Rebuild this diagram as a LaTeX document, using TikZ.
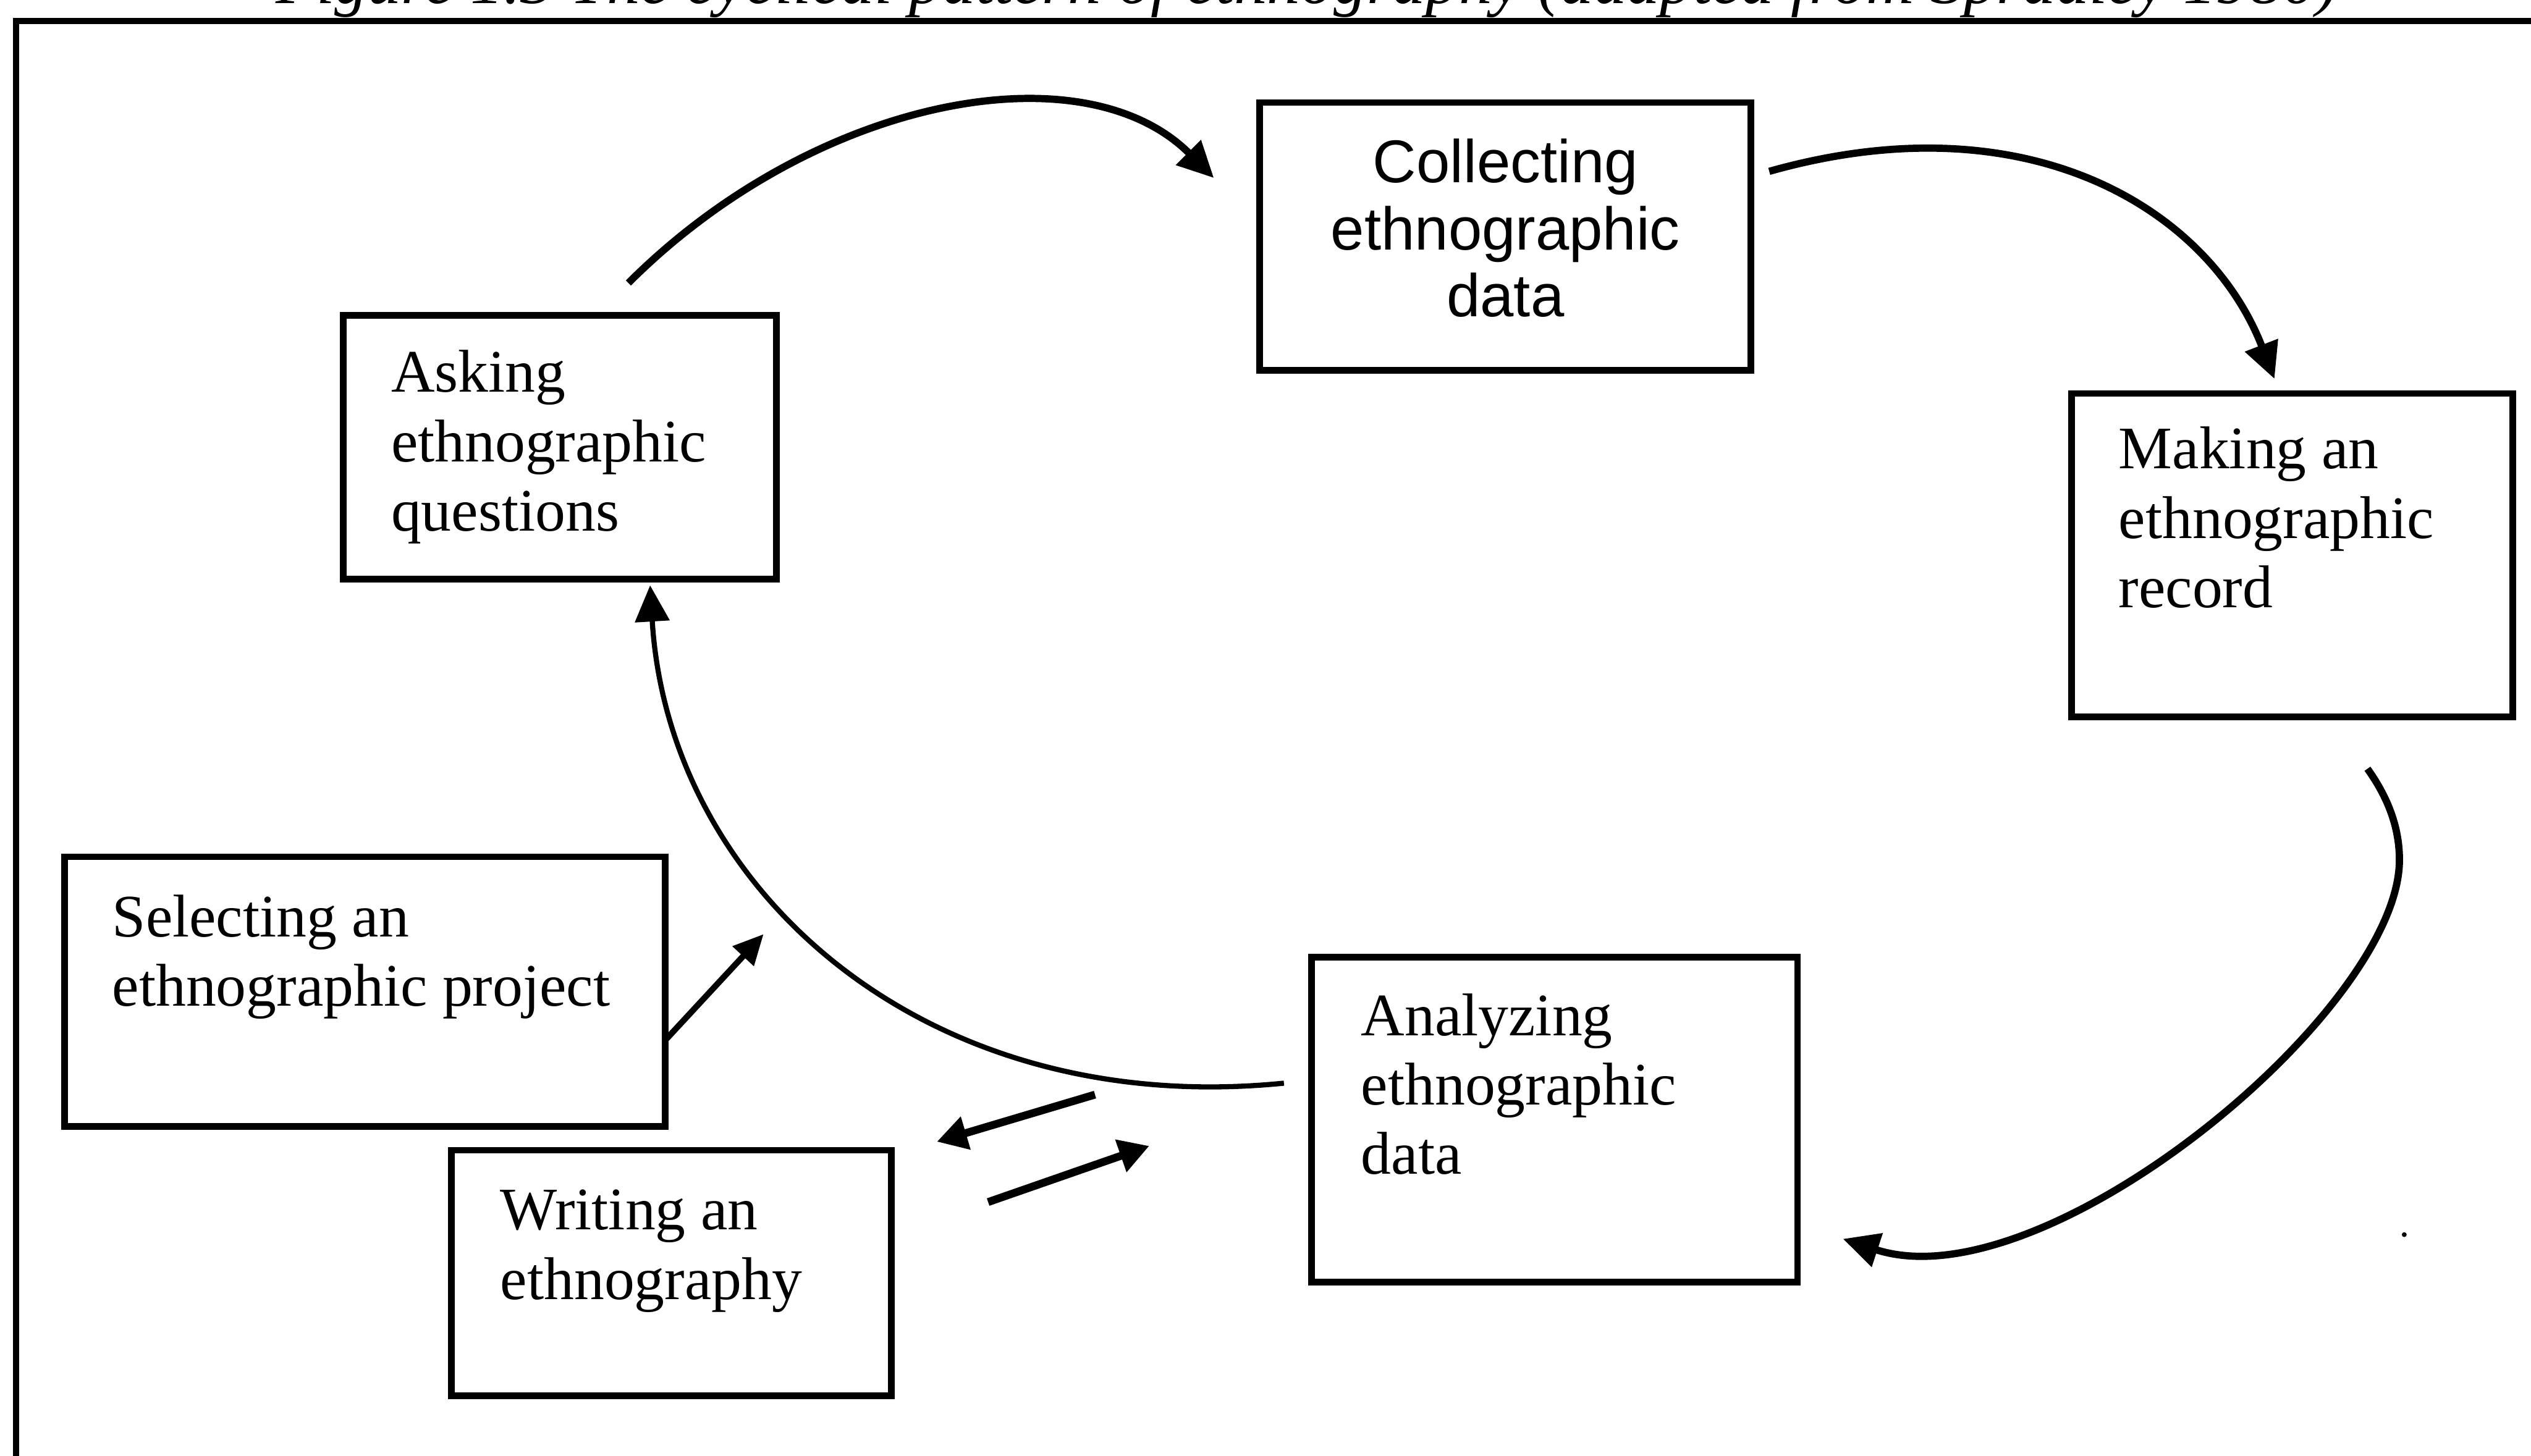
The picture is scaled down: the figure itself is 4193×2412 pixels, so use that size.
\documentclass[tikz,border=0pt]{standalone}
\usepackage{fontspec}
\setmainfont{Liberation Serif}
\newfontfamily\stagesans{Liberation Sans}
\usetikzlibrary{arrows.meta}

% multi-line label whose reference point is the baseline of its first line
\newcommand\stagelines[2][l]{\begin{tabular}[t]{@{}#1@{}}#2\end{tabular}}

\begin{document}
\begin{tikzpicture}[x=0.1pt, y=-0.1pt,
  stage/.style={draw, line width=1.1pt, inner sep=0pt, outer sep=0pt, anchor=north west},
  stagetext/.style={anchor=base west, inner sep=0pt, font=\fontsize{10pt}{11.5pt}\selectfont},
  flow/.style={-{Triangle[length=6pt,width=5.6pt]}, line width=1.2pt},
  thinflow/.style={flow, line width=0.85pt},
  shortflow/.style={-{Triangle[length=5pt,width=5.4pt]}, line width=1.3pt},
]
\useasboundingbox (0,0) rectangle (4193,2412);
\clip (0,0) rectangle (4193,2412);

% caption above the frame
\node[anchor=base west, inner sep=0pt, font=\fontsize{11pt}{13pt}\selectfont\itshape] (caption)
  at (455,6) {Figure 1.3 The cyclical pattern of ethnography (adapted from Spradley 1980)};

% outer frame
\draw[line width=1pt] (27,35) rectangle (4400,2600);

% stages of the cycle
\node[stage, minimum width=71.7pt, minimum height=43.7pt] (ask) at (569,523) {};
\node[stage, minimum width=81.4pt, minimum height=44.4pt] (col) at (2087,170) {};
\node[stage, minimum width=73.1pt, minimum height=53.6pt] (rec) at (3432,652) {};
\node[stage, minimum width=80.5pt, minimum height=53.9pt] (ana) at (2173,1586) {};
\node[stage, minimum width=99.5pt, minimum height=44.7pt] (sel) at (107,1420) {};
\node[stage, minimum width=72.9pt, minimum height=40.7pt] (wri) at (748,1906) {};

\node[stagetext] (askT) at (646,650) {\stagelines{Asking\\ethnographic\\questions}};
\node[anchor=base, inner sep=0pt, font=\stagesans\fontsize{10pt}{11.1pt}\selectfont] (colT)
  at (2494,303) {\stagelines[c]{Collecting\\ethnographic\\data}};
\node[stagetext] (recT) at (3508,777) {\stagelines{Making an\\ethnographic\\record}};
\node[stagetext] (anaT) at (2253,1716) {\stagelines{Analyzing\\ethnographic\\data}};
\node[stagetext] (selT) at (184,1552) {\stagelines{Selecting an\\ethnographic project}};
\node[stagetext] (wriT) at (827,2038) {\stagelines{Writing an\\ethnography}};

% free ends of the connectors
\coordinate (askOut) at (1041,469);
\coordinate (colIn)  at (2011,295);
\coordinate (colOut) at (2931,284);
\coordinate (recIn)  at (3768,628);
\coordinate (recOut) at (3922,1274);
\coordinate (recMid) at (3975,1425);
\coordinate (anaIn)  at (3053,2053);
\coordinate (anaOut) at (2127,1795);
\coordinate (askIn)  at (1077,970);
\coordinate (selTip) at (1265,1548);
\coordinate (toWriS) at (1814,1814);
\coordinate (toWriE) at (1552,1892);
\coordinate (toAnaS) at (1637,1992);
\coordinate (toAnaE) at (1904,1899);

% the cycle
\draw[flow] (askOut) .. controls (1349,161) and (1794,78) .. (colIn);
\draw[flow] (colOut) .. controls (3363,162) and (3660,349) .. (recIn);
\draw[flow] (recOut) .. controls (3955,1320) and (3975,1370) .. (recMid)
                     .. controls (3975,1675) and (3386,2162) .. (anaIn);
\draw[thinflow] (anaOut) .. controls (1527,1855) and (1107,1470) .. (askIn);

% entry into the cycle
\draw[-{Triangle[length=5pt,width=4.6pt]}, line width=1pt] ([yshift=-8.05pt]sel.east) -- (selTip);

% exchange between analysis and writing
\draw[shortflow] (toWriS) -- (toWriE);
\draw[shortflow] (toAnaS) -- (toAnaE);

% small speck on the page
\fill (3983,2046) circle (4);
\end{tikzpicture}
\end{document}
